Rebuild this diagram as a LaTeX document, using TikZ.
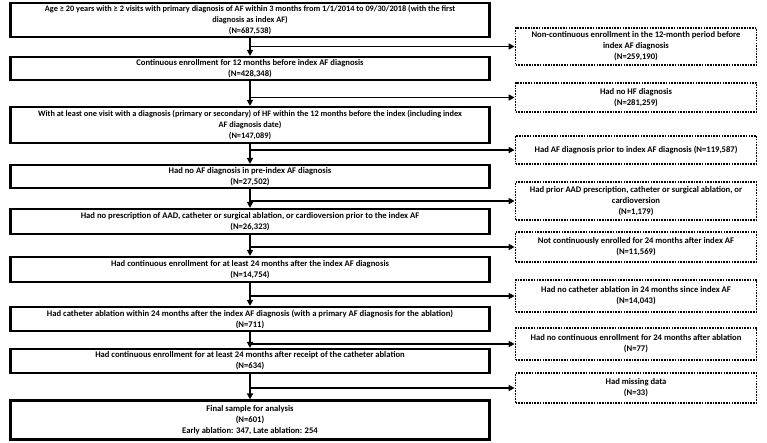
\documentclass[tikz,border=0pt]{standalone}
\usepackage{fontspec}
\setmainfont{Carlito}
\usetikzlibrary{arrows.meta,calc}
\begin{document}
\begin{tikzpicture}[x=1pt,y=-1pt,
  every node/.style={font=\fontsize{8.6}{11}\selectfont\bfseries, align=center, inner sep=0pt},
  smalltext/.style={font=\fontsize{8.3}{11}\selectfont\bfseries},
  mainbox/.style={draw=black, line width=2.2pt, minimum width=479pt},
  sidebox/.style={draw=black, line width=1.8pt, dash pattern={on 1.6pt off 1.1pt}, minimum width=241pt},
  flow/.style={line width=1.8pt, -{Triangle[length=6pt,width=6pt]}}
]
\useasboundingbox (0,0) rectangle (767,442);
% main column
\node[mainbox, smalltext, minimum height=34pt] (B1) at (250,20) {Age ≥ 20 years with ≥ 2 visits with primary diagnosis of AF within 3 months from 1/1/2014 to 09/30/2018 (with the first\\diagnosis as index AF)\\(N=687,538)};
\node[mainbox, minimum height=23pt] (B2) at (250,68.5) {Continuous enrollment for 12 months before index AF diagnosis\\(N=428,348)};
\node[mainbox, smalltext, minimum height=36pt] (B3) at (250,125) {With at least one visit with a diagnosis (primary or secondary) of HF within the 12 months before the index (including index\\AF diagnosis date)\\(N=147,089)};
\node[mainbox, minimum height=23pt] (B4) at (250,176.5) {Had no AF diagnosis in pre-index AF diagnosis\\(N=27,502)};
\node[mainbox, minimum height=25pt] (B5) at (250,221.5) {Had no prescription of AAD, catheter or surgical ablation, or cardioversion prior to the index AF\\(N=26,323)};
\node[mainbox, minimum height=25pt] (B6) at (250,269.5) {Had continuous enrollment for at least 24 months after the index AF diagnosis\\(N=14,754)};
\node[mainbox, minimum height=24pt] (B7) at (250,319) {Had catheter ablation within 24 months after the index AF diagnosis (with a primary AF diagnosis for the ablation)\\(N=711)};
\node[mainbox, minimum height=24pt] (B8) at (250,361) {Had continuous enrollment for at least 24 months after receipt of the catheter ablation\\(N=634)};
\node[mainbox, minimum height=39pt] (B9) at (250,420) {Final sample for analysis\\(N=601)\\Early ablation: 347, Late ablation: 254};
% side column
\node[sidebox, minimum height=37pt] (R1) at (636,46.5) {Non-continuous enrollment in the 12-month period before\\index AF diagnosis\\(N=259,190)};
\node[sidebox, minimum height=29pt] (R2) at (636,97.5) {Had no HF diagnosis\\(N=281,259)};
\node[sidebox, minimum height=28pt] (R3) at (636,150) {Had AF diagnosis prior to index AF diagnosis (N=119,587)};
\node[sidebox, minimum height=38pt] (R4) at (636,201) {Had prior AAD prescription, catheter or surgical ablation, or\\cardioversion\\(N=1,179)};
\node[sidebox, minimum height=30pt] (R5) at (636,247) {Not continuously enrolled for 24 months after index AF\\(N=11,569)};
\node[sidebox, minimum height=32pt] (R6) at (636,296) {Had no catheter ablation in 24 months since index AF\\(N=14,043)};
\node[sidebox, minimum height=32pt] (R7) at (636,344) {Had no continuous enrollment for 24 months after ablation\\(N=77)};
\node[sidebox, minimum height=30pt] (R8) at (636,388) {Had missing data\\(N=33)};
% vertical arrows
\foreach \a/\b in {B1/B2,B2/B3,B3/B4,B4/B5,B5/B6,B6/B7,B7/B8,B8/B9}
  \draw[flow] (\a.south) -- (\b.north);
% branches
\foreach \a/\r in {B1/R1,B2/R2,B3/R3,B4/R4,B5/R5,B6/R6,B7/R7,B8/R8}
  \draw[flow] (\a.south |- \r.west) -- (\r.west);
\end{tikzpicture}
\end{document}
